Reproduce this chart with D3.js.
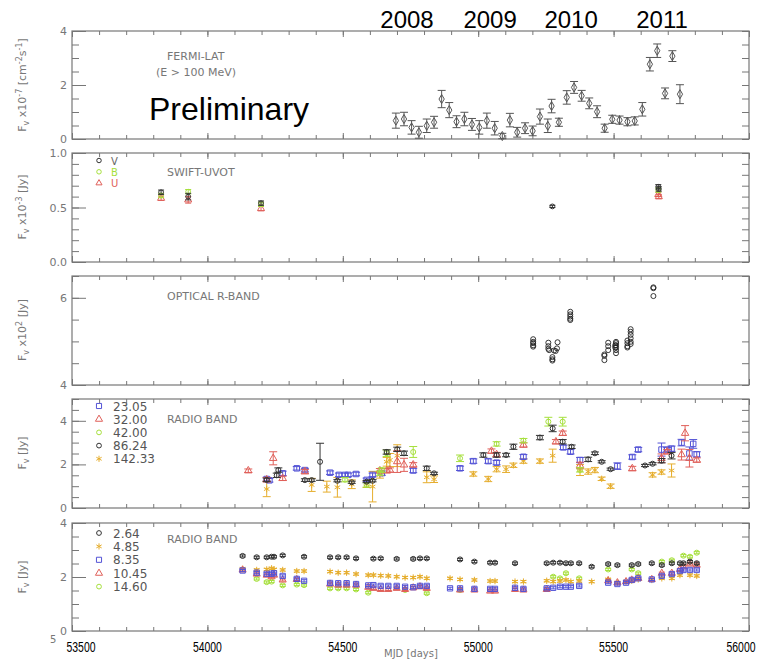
<!DOCTYPE html>
<html><head><meta charset="utf-8">
<script src="https://cdn.jsdelivr.net/npm/d3@7"></script>
<style>body{margin:0;background:#fff}</style>
</head><body><svg id="c" width="770" height="661"></svg>
<script>
// ---------------- DATA ----------------
const xTickLabels = [53500, 54000, 54500, 55000, 55500, 56000];
const yearLabels = ["2008", "2009", "2010", "2011"];
const yearMJD = [54737, 55044, 55343, 55679];

// Panel 1: Fermi-LAT  [MJD, flux, err]
const fermiMJD = [54696,54726,54754,54781,54810,54837,54865,54893,54920,54949,54977,55004,55032,55061,55089,55117,55144,55173,55201,55228,55257,55271,55298,55327,55354,55382,55410,55439,55467,55495,55522,55551,55578,55606,55634,55661,55690,55717,55745];
const fermiFlux = [0.68,0.74,0.43,0.25,0.49,0.62,1.48,1.07,0.64,0.74,0.54,0.43,0.68,0.40,0.11,0.70,0.25,0.40,0.30,0.83,0.49,1.22,0.62,1.54,1.91,1.60,1.32,1.01,0.40,0.73,0.70,0.64,0.67,1.10,2.77,3.27,1.69,3.07,1.66];
const fermiErr = [0.28,0.25,0.25,0.22,0.25,0.22,0.32,0.28,0.22,0.25,0.22,0.25,0.28,0.25,0.10,0.25,0.18,0.20,0.18,0.28,0.25,0.25,0.15,0.25,0.22,0.20,0.20,0.22,0.15,0.15,0.15,0.15,0.15,0.25,0.25,0.25,0.20,0.20,0.35];

// Panel 2: Swift-UVOT
const uvotV = [[53829,0.64,0.02],[53929,0.60,0.03],[54198,0.54,0.02],[55274,0.51,0.01],[55665,0.69,0.02],[55667,0.67,0.02]];
const uvotB = [[53829,0.61,0.02],[53929,0.645,0.02],[54198,0.53,0.02],[55665,0.66,0.02]];
const uvotU = [[53829,0.585,0.02],[53929,0.57,0.03],[54198,0.49,0.02],[55665,0.62,0.02],[55667,0.60,0.02]];

// Panel 3: Optical R-band [MJD, flux]
const optR = [[55203,5.05],[55203,4.99],[55203,4.96],[55203,4.91],[55203,4.88],
 [55259,4.97],[55259,4.89],[55259,4.83],[55262,4.80],
 [55274,4.64],[55274,4.59],[55274,4.56],
 [55280,4.79],[55286,4.78],[55291,4.84],[55293,4.98],
 [55340,5.68],[55340,5.62],[55340,5.57],[55340,5.52],[55340,5.49],
 [55466,4.70],[55466,4.67],[55466,4.57],
 [55480,4.97],[55480,4.89],[55480,4.80],
 [55506,4.91],[55506,4.86],[55509,4.99],[55509,4.96],[55509,4.91],[55509,4.86],[55509,4.80],[55509,4.73],
 [55551,5.02],[55551,4.96],[55551,4.89],[55551,4.86],
 [55563,5.28],[55563,5.22],[55563,5.15],[55563,5.07],[55563,4.99],[55563,4.94],
 [55647,6.24],[55647,6.22],[55647,6.04]];

// Panel 4: Radio band (high freq) [MJD, flux, err]
const r23 = [[54219,1.33,0.08],[54229,1.27,0.08],[54278,1.59,0.10],[54330,1.82,0.08],[54360,1.74,0.08],[54453,1.62,0.08],[54486,1.52,0.08],[54508,1.52,0.08],[54520,1.52,0.08],[54549,1.56,0.08],[54588,1.29,0.08],[54610,1.52,0.08],[54644,1.60,0.10],[54760,1.72,0.10],[54933,1.82,0.10],[54982,2.15,0.10],[55037,2.15,0.10],[55068,2.08,0.10],[55167,2.35,0.10],[55314,2.78,0.10],[55341,2.58,0.10],[55376,2.20,0.12],[55514,1.92,0.15],[55569,2.34,0.10],[55591,2.68,0.10],[55677,2.68,0.30],[55698,2.68,0.10],[55714,2.72,0.12],[55751,3.00,0.15],[55780,2.50,0.30],[55794,2.94,0.20],[55807,2.46,0.12]];
const r32 = [[54151,1.71,0.08],[54219,1.30,0.10],[54243,2.28,0.30],[54278,1.36,0.10],[54360,1.67,0.10],[54637,1.71,0.10],[54662,1.71,0.10],[54674,1.74,0.10],[54701,2.13,0.50],[54726,1.98,0.30],[54760,1.98,0.10],[55049,2.61,0.10],[55068,2.45,0.10],[55167,2.89,0.10],[55287,3.04,0.10],[55312,3.43,0.10],[55376,1.95,0.15],[55569,1.81,0.10],[55677,2.28,0.20],[55698,2.58,0.10],[55751,2.45,0.25],[55764,3.43,0.35],[55780,2.28,0.40],[55807,2.20,0.10]];
const r42 = [[54508,1.30,0.10],[54588,1.06,0.10],[54637,1.60,0.10],[54644,1.74,0.10],[54662,2.51,0.15],[54760,2.57,0.25],[54933,2.28,0.15],[55068,2.94,0.10],[55167,3.09,0.10],[55259,3.96,0.20],[55312,3.96,0.20],[55376,1.75,0.10]];
const r86 = [[54219,1.29,0.08],[54256,1.50,0.10],[54262,1.74,0.10],[54360,1.28,0.06],[54385,1.28,0.06],[54416,2.12,0.85],[54480,1.25,0.05],[54533,1.18,0.05],[54588,1.21,0.05],[54610,1.25,0.05],[54662,2.57,0.10],[54701,2.69,0.10],[54726,2.51,0.10],[54810,1.82,0.10],[54837,1.59,0.05],[55019,2.43,0.10],[55068,2.43,0.10],[55103,2.43,0.08],[55130,2.81,0.12],[55228,3.23,0.10],[55275,3.65,0.15],[55312,3.04,0.10],[55345,2.81,0.08],[55406,2.23,0.10],[55431,2.51,0.06],[55456,2.12,0.05],[55489,1.78,0.05],[55616,1.95,0.05],[55644,2.03,0.05],[55677,2.17,0.10],[55714,2.40,0.15]];
const r142 = [[54219,0.87,0.35],[54385,1.06,0.30],[54441,0.98,0.25],[54480,0.95,0.45],[54533,1.09,0.20],[54588,1.09,0.15],[54610,0.98,0.70],[54637,1.52,0.15],[54662,2.12,0.20],[54674,2.20,0.30],[54701,2.40,0.50],[54810,1.41,0.25],[54837,1.32,0.15],[54982,1.56,0.10],[55037,1.33,0.12],[55068,1.78,0.12],[55103,1.78,0.15],[55130,1.96,0.10],[55167,2.15,0.10],[55228,2.15,0.10],[55275,2.40,0.30],[55376,1.74,0.25],[55406,1.67,0.12],[55431,1.74,0.12],[55456,1.34,0.08],[55489,1.00,0.10],[55644,1.52,0.10],[55677,1.65,0.10],[55714,1.72,0.30]];
const radioHiLabels = ["23.05","32.00","42.00","86.24","142.33"];

// Panel 5: Radio band (low freq) [MJD, flux]
const r264 = [[54130,2.78],[54182,2.73],[54219,2.73],[54237,2.75],[54246,2.75],[54278,2.80],[54357,2.75],[54453,2.73],[54483,2.73],[54514,2.73],[54549,2.69],[54613,2.68],[54640,2.69],[54699,2.67],[54760,2.67],[54785,2.69],[54810,2.69],[54933,2.65],[54986,2.57],[55044,2.53],[55062,2.53],[55136,2.51],[55253,2.51],[55277,2.53],[55302,2.53],[55324,2.51],[55342,2.51],[55373,2.51],[55419,2.38],[55480,2.48],[55514,2.44],[55567,2.44],[55591,2.48],[55641,2.51],[55678,2.44],[55715,2.51],[55745,2.51],[55758,2.51],[55782,2.57],[55807,2.51]];
const r485 = [[54130,2.30],[54182,2.26],[54219,2.28],[54237,2.32],[54246,2.28],[54278,2.26],[54330,2.22],[54357,2.22],[54453,2.20],[54483,2.16],[54514,2.16],[54549,2.11],[54594,2.07],[54613,2.07],[54640,2.05],[54668,2.04],[54699,2.01],[54730,1.98],[54760,1.98],[54785,2.01],[54810,1.95],[54896,1.95],[54933,1.91],[54986,1.89],[55044,1.85],[55062,1.85],[55136,1.83],[55167,1.83],[55253,1.86],[55277,1.83],[55302,1.85],[55324,1.89],[55342,1.83],[55373,1.85],[55419,1.83],[55480,1.91],[55514,1.79],[55546,1.83],[55567,1.86],[55591,1.91],[55641,1.89],[55678,1.95],[55715,1.95],[55745,2.07],[55782,2.07],[55807,2.04]];
const r835 = [[54130,2.24],[54182,2.16],[54219,2.12],[54237,2.12],[54246,2.14],[54278,2.04],[54330,1.93],[54357,1.86],[54453,1.78],[54483,1.77],[54514,1.77],[54549,1.74],[54594,1.69],[54613,1.70],[54640,1.67],[54668,1.67],[54699,1.67],[54730,1.64],[54760,1.62],[54785,1.67],[54810,1.67],[54896,1.58],[54933,1.58],[54986,1.56],[55044,1.56],[55062,1.56],[55136,1.60],[55167,1.56],[55253,1.58],[55277,1.60],[55302,1.64],[55324,1.64],[55342,1.64],[55373,1.67],[55480,1.79],[55514,1.74],[55546,1.79],[55567,1.89],[55591,1.95],[55641,1.91],[55678,2.04],[55715,2.11],[55745,2.22],[55758,2.26],[55782,2.26],[55807,2.26]];
const r1045 = [[54130,2.26],[54182,2.11],[54219,2.07],[54237,2.01],[54246,2.07],[54278,1.89],[54330,1.91],[54453,1.74],[54483,1.70],[54514,1.70],[54549,1.70],[54594,1.62],[54613,1.58],[54640,1.54],[54668,1.54],[54699,1.58],[54730,1.54],[54760,1.60],[54785,1.64],[54810,1.58],[54933,1.52],[54986,1.52],[55044,1.48],[55062,1.48],[55136,1.54],[55167,1.52],[55253,1.54],[55480,1.86],[55514,1.79],[55546,1.83],[55567,1.89],[55591,1.95],[55641,1.91],[55678,2.14],[55715,2.14],[55745,2.28],[55758,2.38],[55782,2.48],[55807,2.44]];
const r1460 = [[54182,1.93],[54219,1.81],[54237,1.83],[54278,1.69],[54330,1.72],[54357,1.70],[54453,1.58],[54483,1.58],[54514,1.58],[54549,1.54],[54594,1.42],[54730,1.52],[54810,1.40],[54933,1.52],[55277,2.01],[55302,1.95],[55324,2.14],[55373,1.95],[55480,2.28],[55567,2.28],[55591,2.14],[55678,2.57],[55715,2.62],[55758,2.79],[55782,2.75],[55807,2.90]];
const radioLoLabels = ["2.64","4.85","8.35","10.45","14.60"];

// ---------------- DRAW ----------------
const svg = d3.select("#c");
const AX = "#777", TXT = "#777";
const C = {blue:"#5353d6", red:"#e0605a", green:"#a6e03c", black:"#333", orange:"#e6ae2e", fermi:"#555"};
const X0 = 72, X1 = 749;
const x = d3.scaleLinear().domain([53500, 56000]).range([X0, X1]);

const panels = [
  {top:31, bottom:139, dom:[0,4], major:[0,2,4], step:0.5, fmt:d3.format("d")},
  {top:153, bottom:262, dom:[0,1], major:[0,0.5,1], step:0.1, fmt:d3.format(".1f")},
  {top:276, bottom:385, dom:[4,6.5], major:[4,6], step:0.5, fmt:d3.format("d")},
  {top:399, bottom:508, dom:[0,5], major:[0,2,4], step:0.5, fmt:d3.format("d")},
  {top:523, bottom:631, dom:[0,4], major:[0,2,4], step:0.5, fmt:d3.format("d")}
];
panels.forEach(p => { p.y = d3.scaleLinear().domain(p.dom).range([p.bottom, p.top]); });

function styleAxis(s){
  s.select(".domain").remove();
  s.selectAll(".tick line").attr("stroke", AX);
  s.selectAll(".tick text").attr("fill", TXT).style("font-family","DejaVu Sans").style("font-size","11px");
}
const xMinor = d3.range(53500, 56001, 100);
const xMajor = d3.range(53500, 56001, 500);

panels.forEach(p => {
  const g = svg.append("g");
  const minor = d3.range(p.dom[0], p.dom[1] + 1e-6, p.step).map(v => +v.toFixed(3));
  g.append("g").attr("transform",`translate(${X0},0)`)
    .call(d3.axisLeft(p.y).tickValues(minor).tickSize(-7).tickFormat("")).call(styleAxis);
  g.append("g").attr("transform",`translate(${X0},0)`)
    .call(d3.axisLeft(p.y).tickValues(p.major).tickSize(-14).tickPadding(5).tickFormat(p.fmt)).call(styleAxis);
  g.append("g").attr("transform",`translate(${X1},0)`)
    .call(d3.axisRight(p.y).tickValues(minor).tickSize(-7).tickFormat("")).call(styleAxis);
  [[p.bottom, d3.axisBottom],[p.top, d3.axisTop]].forEach(([yy, ax]) => {
    g.append("g").attr("transform",`translate(0,${yy})`)
      .call(ax(x).tickValues(xMinor).tickSize(-4).tickFormat("")).call(styleAxis);
    g.append("g").attr("transform",`translate(0,${yy})`)
      .call(ax(x).tickValues(xMajor).tickSize(-6).tickFormat("")).call(styleAxis);
  });
  g.append("rect").attr("x", X0).attr("y", p.top).attr("width", X1 - X0).attr("height", p.bottom - p.top)
    .attr("fill","none").attr("stroke", AX).attr("stroke-width", 1.2);
});

function errBars(g, data, y, color, cap, sw){
  const eg = g.append("g").attr("stroke", color).attr("stroke-width", sw || 1).attr("fill","none");
  data.forEach(d => {
    const cx = x(d[0]), y1 = y(Math.max(d[1]-d[2], y.domain()[0])), y2 = y(d[1]+d[2]);
    eg.append("line").attr("x1",cx).attr("x2",cx).attr("y1",y1).attr("y2",y2);
    eg.append("line").attr("x1",cx-cap).attr("x2",cx+cap).attr("y1",y1).attr("y2",y1);
    eg.append("line").attr("x1",cx-cap).attr("x2",cx+cap).attr("y1",y2).attr("y2",y2);
  });
}
function marks(g, data, y, type, size, color, sw){
  g.append("g").selectAll("path").data(data).join("path")
    .attr("transform", d => `translate(${x(d[0])},${y(d[1])})`)
    .attr("d", d3.symbol().type(type).size(size))
    .attr("fill","none").attr("stroke", color).attr("stroke-width", sw || 1);
}
function label(t, xx, yy, opts){
  const o = Object.assign({size:11, fill:TXT, family:"DejaVu Sans", anchor:"start"}, opts||{});
  return svg.append("text").attr("x",xx).attr("y",yy).text(t)
    .attr("fill",o.fill).attr("text-anchor",o.anchor)
    .style("font-family",o.family).style("font-size",o.size+"px");
}

// Panel 1
{
  const p = panels[0], g = svg.append("g");
  const fd = fermiMJD.map((m,i) => [m, fermiFlux[i], fermiErr[i]]);
  errBars(g, fd, p.y, C.fermi, 4, 1);
  marks(g, fd, p.y, d3.symbolDiamond, 24, C.fermi, 1);
  label("FERMI-LAT", 167, 60);
  label("(E > 100 MeV)", 156, 76);
  label("Preliminary", 149, 120, {size:32, fill:"#000", family:"Liberation Sans, Arial"});
  yearLabels.forEach((t,i) => label(t, x(yearMJD[i]), 28, {size:24, fill:"#000", family:"Liberation Sans, Arial", anchor:"middle"}));
}
// Panel 2
{
  const p = panels[1], g = svg.append("g");
  errBars(g, uvotU, p.y, C.red, 3); marks(g, uvotU, p.y, d3.symbolTriangle, 22, C.red);
  errBars(g, uvotB, p.y, C.green, 3); marks(g, uvotB, p.y, d3.symbolCircle, 18, C.green);
  errBars(g, uvotV, p.y, C.black, 3); marks(g, uvotV, p.y, d3.symbolCircle, 18, C.black);
  const leg = [["V", d3.symbolCircle, C.black], ["B", d3.symbolCircle, C.green], ["U", d3.symbolTriangle, C.red]];
  leg.forEach((l,i) => {
    const yy = 160.5 + i*11.3;
    svg.append("path").attr("transform",`translate(99,${yy})`).attr("d", d3.symbol().type(l[1]).size(16)())
      .attr("fill","none").attr("stroke", l[2]);
    label(l[0], 111, yy+4, {size:10, fill: i===0 ? "#666" : l[2]});
  });
  label("SWIFT-UVOT", 167, 176);
}
// Panel 3
{
  const p = panels[2], g = svg.append("g");
  marks(g, optR, p.y, d3.symbolCircle, 20, "#222", 0.9);
  label("OPTICAL R-BAND", 167, 300);
}
// Panel 4
{
  const p = panels[3], g = svg.append("g");
  const series = [[r142, d3.symbolAsterisk, C.orange, 28],[r23, d3.symbolSquare, C.blue, 30],[r32, d3.symbolTriangle, C.red, 24],[r42, d3.symbolCircle, C.green, 20],[r86, d3.symbolCircle, C.black, 20]];
  series.forEach(s => { errBars(g, s[0], p.y, s[2], 4); marks(g, s[0], p.y, s[1], s[3], s[2]); });
  const leg = [[d3.symbolSquare, C.blue, 26],[d3.symbolTriangle, C.red, 22],[d3.symbolCircle, C.green, 18],[d3.symbolCircle, C.black, 18],[d3.symbolAsterisk, C.orange, 26]];
  leg.forEach((l,i) => {
    const yy = 406 + i*13.2;
    svg.append("path").attr("transform",`translate(99,${yy})`).attr("d", d3.symbol().type(l[0]).size(l[2])())
      .attr("fill","none").attr("stroke", l[1]);
    label(radioHiLabels[i], 113, yy+4.5, {size:12, fill:"#555"});
  });
  label("RADIO BAND", 167, 423);
}
// Panel 5
{
  const p = panels[4], g = svg.append("g");
  const e = a => a.map(d => [d[0], d[1], 0.04]);
  const series = [[r1460, d3.symbolCircle, C.green, 20],[r485, d3.symbolAsterisk, C.orange, 28],[r1045, d3.symbolTriangle, C.red, 22],[r835, d3.symbolSquare, C.blue, 28],[r264, d3.symbolCircle, C.black, 20]];
  series.forEach(s => { errBars(g, e(s[0]), p.y, s[2], 3); marks(g, s[0], p.y, s[1], s[3], s[2]); });
  const leg = [[d3.symbolCircle, C.black, 18],[d3.symbolAsterisk, C.orange, 26],[d3.symbolSquare, C.blue, 26],[d3.symbolTriangle, C.red, 22],[d3.symbolCircle, C.green, 18]];
  leg.forEach((l,i) => {
    const yy = 533 + i*13.4;
    svg.append("path").attr("transform",`translate(99,${yy})`).attr("d", d3.symbol().type(l[0]).size(l[2])())
      .attr("fill","none").attr("stroke", l[1]);
    label(radioLoLabels[i], 113, yy+4.5, {size:12, fill:"#555"});
  });
  label("RADIO BAND", 167, 543);
}

// Y axis titles
function yTitle(cy, parts){
  const t = svg.append("text").attr("transform",`translate(26,${cy}) rotate(-90)`)
    .attr("text-anchor","middle").attr("fill",TXT)
    .style("font-family","DejaVu Sans").style("font-size","11px");
  let cur = 0;
  parts.forEach(([s, kind]) => {
    const target = kind==="sub" ? 3 : kind==="sup" ? -4 : 0;
    const ts = t.append("tspan").text(s).attr("dy", target - cur);
    if (kind) ts.style("font-size","8px");
    cur = target;
  });
}
yTitle(85, [["F"],["v","sub"],[" x10"],["-7","sup"],[" [cm"],["-2","sup"],["s"],["-1","sup"],["]"]]);
yTitle(207, [["F"],["v","sub"],[" x10"],["-3","sup"],[" [Jy]"]]);
yTitle(330, [["F"],["v","sub"],[" x10"],["2","sup"],[" [Jy]"]]);
yTitle(453, [["F"],["v","sub"],["  [Jy]"]]);
yTitle(577, [["F"],["v","sub"],["  [Jy]"]]);

// X axis labels
xTickLabels.forEach(v => {
  const cx = Math.min(Math.max(x(v), 81), 741);
  label(String(v), cx, 652, {size:14, fill:"#000", family:"Liberation Sans, Arial", anchor:"middle"})
    .attr("textLength", 29).attr("lengthAdjust","spacingAndGlyphs");
});
label("5", 50, 643, {size:10});
label("MJD [days]", 384, 657, {size:10});
</script></body></html>
